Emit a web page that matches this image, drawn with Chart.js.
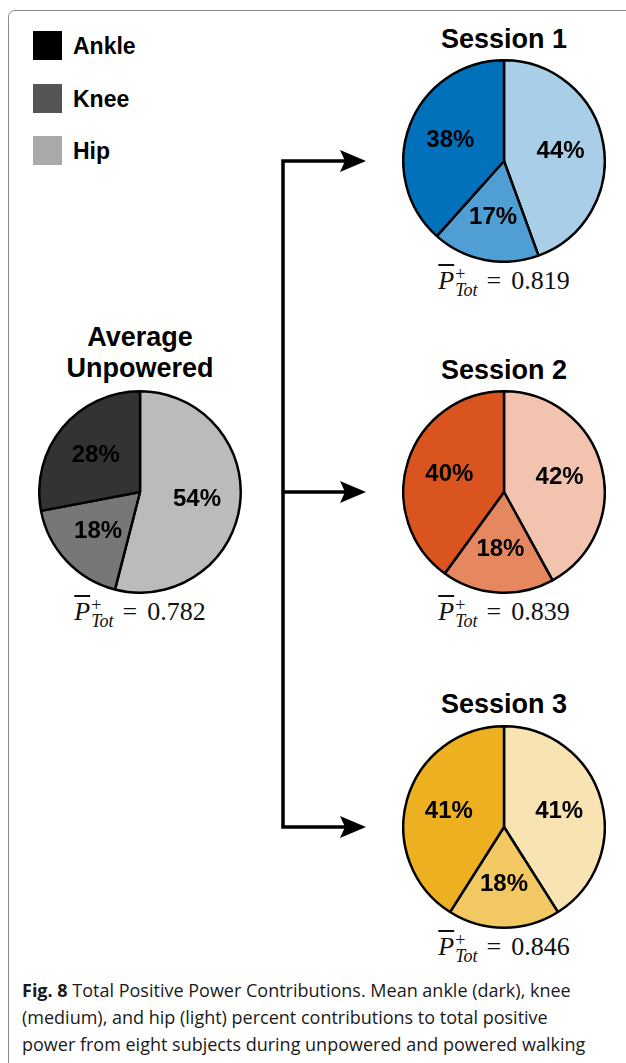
<!DOCTYPE html>
<html>
<head>
<meta charset="utf-8">
<script src="https://cdn.jsdelivr.net/npm/chart.js@4.4.0/dist/chart.umd.min.js"></script>
<style>
  html, body { margin: 0; padding: 0; background: #fff; }
  #page { position: relative; width: 626px; height: 1063px; overflow: hidden; font-family: "Liberation Sans", Arial, sans-serif; }
  #frame { position: absolute; left: 8px; top: 10px; width: 640px; height: 1100px; border: 1.5px solid #8a8a8a; border-top-left-radius: 7px; box-sizing: border-box; }
  .pie { position: absolute; width: 204px; height: 204px; }
  .title { position: absolute; width: 240px; text-align: center; font-weight: bold; font-size: 27px; line-height: 31px; color: #000; }
  .legend-box { position: absolute; left: 33px; width: 29px; height: 29px; }
  .legend-text { position: absolute; left: 73px; font-weight: bold; font-size: 23px; line-height: 23px; }
  .ptot { position: absolute; width: 220px; text-align: center; font-family: "Liberation Serif", "DejaVu Serif", serif; font-size: 26px; line-height: 30px; color: #111; }
  .ptot .P { font-style: italic; text-decoration: overline; text-decoration-thickness: 1.5px; }
  .ptot .ss { display: inline-block; vertical-align: -7px; font-size: 18px; line-height: 16px; text-align: left; margin-left: 1px; }
  .ptot .ss span { display: block; }
  .ptot .ss .sub { font-style: italic; }
  .ptot .eq { margin: 0 10px 0 9px; }
  #caption { position: absolute; left: 22px; top: 977px; font-family: "Open Sans", "Noto Sans", sans-serif; font-size: 18px; line-height: 27px; color: #1a1a1a; white-space: nowrap; }
  #arrows { position: absolute; left: 0; top: 0; }
</style>
</head>
<body>
<div id="page">
  <div id="frame"></div>
  <svg id="arrows" width="626" height="1063"></svg>
  <div id="caption"><b>Fig. 8</b> Total Positive Power Contributions. Mean ankle (dark), knee<br>(medium), and hip (light) percent contributions to total positive<br>power from eight subjects during unpowered and powered walking</div>
</div>
<script>
// ───────── 데이터 ─────────
// 조각 순서: 12시 방향에서 시계방향 (hip → knee → ankle)
const joints = ['Hip', 'Knee', 'Ankle'];
const unpowered = [54, 18, 28];
const session1 = [44, 17, 38];
const session2 = [42, 18, 40];
const session3 = [41, 18, 41];
const ptotValues = ['0.782', '0.819', '0.839', '0.846'];
const chartTitles = [['Average', 'Unpowered'], ['Session 1'], ['Session 2'], ['Session 3']];

const legendLabels = ['Ankle', 'Knee', 'Hip'];
const legendColors = ['#000000', '#555555', '#aaaaaa'];

// 색상 (hip, knee, ankle)
const grayColors = ['#bbbbbb', '#777777', '#333333'];
const blueColors = ['#a9cfe8', '#4f9fd4', '#0171bb'];
const orangeColors = ['#f2c4b0', '#e6885f', '#d9541e'];
const yellowColors = ['#f8e4b3', '#f2c862', '#edb020'];

// ─ 배치 (중심 좌표)
const pies = [
    { data: unpowered, colors: grayColors, cx: 140, cy: 492, titleTop: 322 },
    { data: session1, colors: blueColors, cx: 504, cy: 161, titleTop: 24 },
    { data: session2, colors: orangeColors, cx: 504, cy: 492, titleTop: 355 },
    { data: session3, colors: yellowColors, cx: 504, cy: 827, titleTop: 689 },
];

const page = document.getElementById('page');

// ─ 범례
legendLabels.forEach((label, i) => {
    const top = [31, 84, 136][i];
    page.insertAdjacentHTML('beforeend', `
      <div class="legend-box" style="top:${top}px;background:${legendColors[i]}"></div>
      <div class="legend-text" style="top:${top + 4}px">${label}</div>`);
});

// ─ 조각 위 퍼센트 라벨
const percentLabels = {
    id: 'percentLabels',
    afterDatasetsDraw(chart) {
        const { ctx } = chart;
        const meta = chart.getDatasetMeta(0);
        const values = chart.data.datasets[0].data;
        ctx.save();
        ctx.font = 'bold 24px "Liberation Sans", Arial, sans-serif';
        ctx.fillStyle = '#000';
        ctx.textAlign = 'center';
        ctx.textBaseline = 'middle';
        meta.data.forEach((arc, i) => {
            const p = arc.getProps(['x', 'y', 'startAngle', 'endAngle', 'outerRadius'], true);
            const mid = (p.startAngle + p.endAngle) / 2;
            const r = p.outerRadius * 0.57;
            ctx.fillText(values[i] + '%', p.x + Math.cos(mid) * r, p.y + Math.sin(mid) * r);
        });
        ctx.restore();
    }
};

// ─ 파이 차트 생성
pies.forEach((p, idx) => {
    const wrap = document.createElement('div');
    wrap.className = 'pie';
    wrap.style.left = (p.cx - 102) + 'px';
    wrap.style.top = (p.cy - 102) + 'px';
    const canvas = document.createElement('canvas');
    canvas.width = 204;
    canvas.height = 204;
    wrap.appendChild(canvas);
    page.appendChild(wrap);

    new Chart(canvas.getContext('2d'), {
        type: 'pie',
        data: {
            labels: joints,
            datasets: [{
                data: p.data,
                backgroundColor: p.colors,
                borderColor: '#000',
                borderWidth: 2.5
            }]
        },
        options: {
            responsive: false,
            animation: false,
            events: [],
            layout: { padding: 0 },
            plugins: { legend: { display: false }, tooltip: { enabled: false } }
        },
        plugins: [percentLabels]
    });

    page.insertAdjacentHTML('beforeend',
        `<div class="title" style="left:${p.cx - 120}px;top:${p.titleTop}px">${chartTitles[idx].join('<br>')}</div>`);
    page.insertAdjacentHTML('beforeend',
        `<div class="ptot" style="left:${p.cx - 110}px;top:${p.cy + 105}px"><span class="P">P</span><span class="ss"><span>+</span><span class="sub">Tot</span></span><span class="eq">=</span>${ptotValues[idx]}</div>`);
});

// ─ 화살표
const svg = document.getElementById('arrows');
const vx = 283;
const arrowYs = [pies[1].cy, pies[2].cy, pies[3].cy];
let svgHtml = `<polyline points="${vx + 62},${arrowYs[0]} ${vx},${arrowYs[0]} ${vx},${arrowYs[2]} ${vx + 62},${arrowYs[2]}" fill="none" stroke="#000" stroke-width="3.5" stroke-linejoin="miter"/>`;
svgHtml += `<line x1="${vx}" y1="${arrowYs[1]}" x2="${vx + 62}" y2="${arrowYs[1]}" stroke="#000" stroke-width="3.5"/>`;
arrowYs.forEach(y => {
    svgHtml += `<path d="M${vx + 83},${y} L${vx + 57},${y - 11} L${vx + 62},${y} L${vx + 57},${y + 11} Z" fill="#000"/>`;
});
svg.innerHTML = svgHtml;
</script>
</body>
</html>
